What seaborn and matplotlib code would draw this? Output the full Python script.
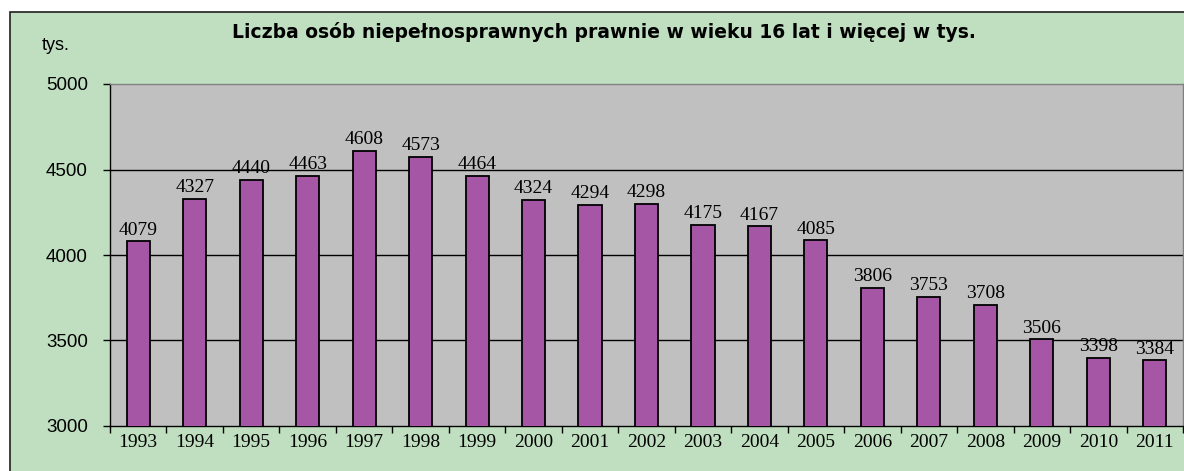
import matplotlib
matplotlib.use("Agg")
import matplotlib.pyplot as plt
import seaborn as sns
import pandas as pd
import numpy as np
from matplotlib.patches import Rectangle

years = ["1993", "1994", "1995", "1996", "1997", "1998", "1999", "2000", "2001", "2002",
         "2003", "2004", "2005", "2006", "2007", "2008", "2009", "2010", "2011"]
values = [4079, 4327, 4440, 4463, 4608, 4573, 4464, 4324, 4294, 4298,
          4175, 4167, 4085, 3806, 3753, 3708, 3506, 3398, 3384]
yticks = [3000, 3500, 4000, 4500, 5000]
title = "Liczba osób niepełnosprawnych prawnie w wieku 16 lat i więcej w tys."
unit = "tys."

sns.set_style("white")
plt.rcParams['font.family'] = ['Liberation Sans', 'DejaVu Sans']

W, H = 1184, 471
fig = plt.figure(figsize=(W / 100, H / 100), dpi=100)
fig.patch.set_facecolor("white")

# chart frame (green)
frame = Rectangle((10 / W, -0.05), 1.2, (H - 12) / H + 0.05, transform=fig.transFigure,
                  facecolor="#c0dfc0", edgecolor="#202020", linewidth=1.2, zorder=-10)
fig.patches.append(frame)

ax = fig.add_axes([110 / W, (H - 426) / H, (1183 - 110) / W, (426 - 84) / H])
ax.set_zorder(1)
ax.set_facecolor("#c0c0c0")

df = pd.DataFrame({"year": years, "value": values})
sns.barplot(data=df, x="year", y="value", color="#a557a5", saturation=1, width=0.41,
            edgecolor="black", linewidth=1.3, ax=ax, zorder=3)

ax.set_ylim(3000, 5000)
ax.set_xlim(-0.5, len(years) - 0.5)
ax.set_yticks(yticks)
ax.set_yticklabels([str(v) for v in yticks], fontsize=13.5, family="Liberation Sans", color="black")
ax.tick_params(axis="y", left=True, length=5, width=1, color="black", pad=11)
for y in yticks[1:-1]:
    ax.axhline(y, color="black", linewidth=1, zorder=1)

ax.set_xticks(range(len(years)))
ax.set_xticklabels(years, fontsize=14, family="Liberation Serif", color="black")
ax.tick_params(axis="x", bottom=True, length=0, pad=6)
ax.set_xticks(np.arange(-0.5, len(years), 1.0), minor=True)
ax.tick_params(axis="x", which="minor", bottom=True, length=5, width=1, color="black")

for i, v in enumerate(values):
    ax.annotate(str(v), (i, v), xytext=(0, 2), textcoords="offset points",
                ha="center", va="bottom", fontsize=14, family="Liberation Serif",
                color="black", zorder=5)

for s in ["left", "bottom"]:
    ax.spines[s].set_color("black")
    ax.spines[s].set_linewidth(1)
for s in ["top", "right"]:
    ax.spines[s].set_color("#808080")
    ax.spines[s].set_linewidth(1)
ax.set_xlabel("")
ax.set_ylabel("")

fig.text(604 / W, (H - 32) / H, title, ha="center", va="center", fontsize=13.5,
         fontweight="bold", family="DejaVu Sans", color="black")
fig.text(56 / W, (H - 46) / H, unit, ha="center", va="center", fontsize=13,
         family="Liberation Sans", color="black")

fig.savefig("out.png", dpi=100)
